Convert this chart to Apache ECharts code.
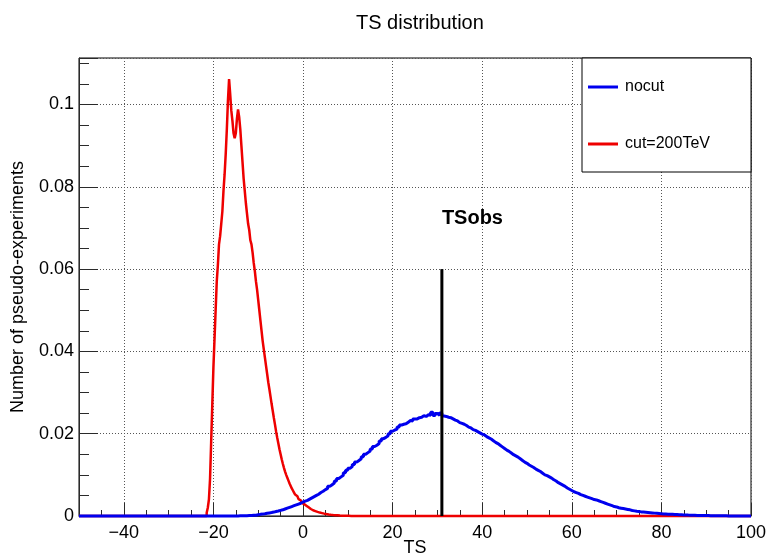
<!DOCTYPE html>
<html>
<head>
<meta charset="utf-8">
<script src="https://cdn.jsdelivr.net/npm/echarts@6/dist/echarts.min.js"></script>
<style>
  html, body { margin: 0; padding: 0; background: #fff; }
  #chart { width: 769px; height: 556px; }
</style>
</head>
<body>
<div id="chart"></div>
<script>
// Axis ranges
const xMin = -50;
const xMax = 100;
const yMax = 0.1113;
const xMajorTicks = [-40, -20, 0, 20, 40, 60, 80, 100];

// "nocut" pseudo-experiment TS distribution (bin width nocutBin, first bin low edge nocutStart)
const nocutBin = 0.5;
const nocutStart = -16;
const nocutValues = [
  0, 0.00002, 0.00003, 0.00004, 0.00005, 0.00007, 0.00008, 0.0001, 0.00012, 0.00016,
  0.0002, 0.0003, 0.0004, 0.00046, 0.00055, 0.00066, 0.00075, 0.00084, 0.00095, 0.00108,
  0.0012, 0.00136, 0.0015, 0.0017, 0.0019, 0.0021, 0.0023, 0.0025, 0.0027, 0.0029,
  0.0031, 0.0034, 0.0036, 0.0038, 0.0041, 0.0044, 0.0047, 0.0050, 0.0053, 0.0057,
  0.0060, 0.0064, 0.0067, 0.0072, 0.0076, 0.0080, 0.0085, 0.0091, 0.0095, 0.0099,
  0.0105, 0.0111, 0.0116, 0.0120, 0.0125, 0.0131, 0.0135, 0.0139, 0.0144, 0.0150,
  0.0154, 0.0158, 0.0163, 0.0169, 0.0172, 0.0176, 0.0182, 0.0188, 0.0191, 0.0195,
  0.0200, 0.0206, 0.0209, 0.0211, 0.0216, 0.0221, 0.0223, 0.0224, 0.0228, 0.0232,
  0.0231, 0.0236, 0.0236, 0.0239, 0.0240, 0.0244, 0.0242, 0.0246, 0.0245, 0.0252,
  0.0244, 0.0249, 0.0245, 0.0250, 0.0243, 0.0242, 0.0240, 0.0239, 0.0236, 0.0233,
  0.0231, 0.0227, 0.0225, 0.0223, 0.0220, 0.0216, 0.0214, 0.0210, 0.0208, 0.0205,
  0.0202, 0.0199, 0.0197, 0.0193, 0.0190, 0.0187, 0.0183, 0.0179, 0.0176, 0.0172,
  0.0168, 0.0164, 0.0160, 0.0157, 0.0153, 0.0149, 0.0146, 0.0143, 0.0139, 0.0135,
  0.0131, 0.0128, 0.0124, 0.0121, 0.0118, 0.0114, 0.0111, 0.0108, 0.0104, 0.0100,
  0.0098, 0.0095, 0.0092, 0.0088, 0.0085, 0.0081, 0.0078, 0.0075, 0.0072, 0.0068,
  0.0065, 0.0062, 0.0059, 0.0057, 0.0055, 0.0052, 0.0050, 0.0048, 0.0046, 0.0044,
  0.0042, 0.0040, 0.0039, 0.0037, 0.0035, 0.0033, 0.0031, 0.0029, 0.0027, 0.0025,
  0.0023, 0.0022, 0.0020, 0.0019, 0.0018, 0.0017, 0.0016, 0.0015, 0.00135, 0.00125,
  0.00115, 0.00108, 0.0010, 0.00095, 0.0009, 0.00085, 0.0008, 0.00075, 0.0007, 0.00065,
  0.0006, 0.00055, 0.0005, 0.00048, 0.00045, 0.00042, 0.0004, 0.00037, 0.00035, 0.00032,
  0.0003, 0.00027, 0.00025, 0.00022, 0.0002, 0.00018, 0.00017, 0.00015, 0.00014, 0.00013,
  0.00012, 0.00011, 0.0001, 0.00009, 0.00008, 0.00007, 0.00006, 0.00005, 0.00005, 0.00004,
  0.00004, 0.00003, 0.00003, 0.00002, 0.00002, 0.00001, 0.00001, 0
];

// "cut=200TeV" pseudo-experiment TS distribution (bin width cutBin, first bin low edge cutStart)
const cutBin = 0.25;
const cutStart = -22;
const cutValues = [
  0, 0, 0.0008, 0.002, 0.004, 0.009, 0.018, 0.027, 0.036, 0.043,
  0.050, 0.057, 0.061, 0.066, 0.068, 0.071, 0.074, 0.079, 0.083, 0.088,
  0.094, 0.101, 0.1062, 0.1025, 0.0985, 0.096, 0.093, 0.0918, 0.093, 0.0965,
  0.0988, 0.097, 0.094, 0.090, 0.086, 0.082, 0.079, 0.076, 0.0735, 0.071,
  0.0695, 0.067, 0.066, 0.064, 0.0615, 0.0595, 0.057, 0.055, 0.0525, 0.050,
  0.0475, 0.045, 0.0425, 0.0405, 0.0385, 0.0365, 0.0345, 0.0325, 0.0308, 0.029,
  0.0272, 0.0255, 0.0238, 0.0222, 0.0205, 0.019, 0.0176, 0.0162, 0.015, 0.0138,
  0.0127, 0.0117, 0.0108, 0.0100, 0.0093, 0.0086, 0.0079, 0.0073, 0.0067, 0.0062,
  0.0057, 0.0052, 0.0048, 0.0044, 0.0041, 0.0038, 0.0035, 0.0032, 0.0029, 0.0027,
  0.0025, 0.0023, 0.0021, 0.0019, 0.0017, 0.0016, 0.0014, 0.0013, 0.0012, 0.0011,
  0.0010, 0.0009, 0.00083, 0.00076, 0.0007, 0.00063, 0.00057, 0.00052, 0.00047, 0.00042,
  0.00038, 0.00034, 0.0003, 0.00027, 0.00024, 0.00022, 0.0002, 0.00018, 0.00016, 0.00014,
  0.00012, 0.0001, 0.00009, 0.00008, 0.00007, 0.00006, 0.00005, 0.00004, 0.00004, 0.00003,
  0.00003, 0.00002, 0.00002, 0.00001, 0.00001, 0
];

// Observed test statistic
const tsObs = 31;
const tsObsHeight = 0.06;
const tsObsLabelY = 0.0722;

const FONT = "'Liberation Sans', Arial, Helvetica, sans-serif";
const AXIS_COLOR = '#2a2a2a';

// Step-histogram points over the full axis range (zero outside the filled bins)
function histogramPoints(start, width, values) {
  const pts = [];
  const nBins = Math.round((xMax - xMin) / width);
  const offset = Math.round((start - xMin) / width);
  for (let i = 0; i < nBins; i++) {
    const k = i - offset;
    const v = (k >= 0 && k < values.length) ? values[k] : 0;
    pts.push([xMin + i * width, v]);
  }
  pts.push([xMax, pts[pts.length - 1][1]]);
  return pts;
}

function isMultiple(v, step) {
  return Math.abs(v / step - Math.round(v / step)) < 1e-6;
}

const chart = echarts.init(document.getElementById('chart'), null, { renderer: 'canvas' });

const option = {
  animation: false,
  backgroundColor: '#fff',
  textStyle: { fontFamily: FONT },
  title: {
    text: 'TS distribution',
    left: 351,
    top: 8,
    textStyle: { fontFamily: FONT, fontSize: 20, fontWeight: 'normal', color: '#000' }
  },
  grid: {
    left: 79, right: 18, top: 58, bottom: 40,
    show: true, borderColor: '#000', borderWidth: 1,
    outerBoundsMode: 'none'
  },
  legend: {
    data: ['nocut', 'cut=200TeV'],
    orient: 'vertical',
    left: 583,
    top: 72,
    itemWidth: 30,
    itemHeight: 3,
    itemGap: 37,
    icon: 'rect',
    z: 10,
    textStyle: { fontFamily: FONT, fontSize: 16, color: '#000', lineHeight: 20, padding: [0, 0, 0, 2] }
  },
  graphic: [{
    type: 'rect',
    z: 5,
    shape: { x: 582, y: 58, width: 169, height: 114 },
    style: { fill: '#fff', stroke: '#000', lineWidth: 1 }
  }],
  xAxis: [
    {
      // minor ticks every 5
      type: 'value', min: xMin, max: xMax, interval: 5, position: 'bottom',
      axisLine: { show: true, onZero: false, lineStyle: { color: AXIS_COLOR, width: 1 } },
      axisTick: { show: true, inside: true, length: 6, lineStyle: { color: AXIS_COLOR, width: 1 } },
      axisLabel: { show: false },
      splitLine: { show: false }
    },
    {
      // major ticks, labels and grid lines
      type: 'value', min: xMin, max: xMax, position: 'bottom',
      name: 'TS', nameLocation: 'middle', nameGap: 23, nameMoveOverlap: false,
      nameTextStyle: { fontFamily: FONT, fontSize: 18, color: '#000' },
      axisLine: { show: false, onZero: false },
      axisTick: { show: true, inside: true, length: 13, customValues: xMajorTicks, lineStyle: { color: AXIS_COLOR, width: 1 } },
      axisLabel: {
        show: true, customValues: xMajorTicks, margin: 8,
        fontFamily: FONT, fontSize: 18, color: '#000',
        formatter: v => String(v).replace('-', '\u2212')
      },
      splitLine: { show: true, lineStyle: { color: '#555', width: 1, type: [1, 2] } }
    }
  ],
  yAxis: [
    {
      // minor ticks every 0.005
      type: 'value', min: 0, max: yMax, interval: 0.005, position: 'left',
      axisLine: { show: true, onZero: false, lineStyle: { color: AXIS_COLOR, width: 1 } },
      axisTick: { show: true, inside: true, length: 10, lineStyle: { color: AXIS_COLOR, width: 1 } },
      axisLabel: { show: false },
      splitLine: { show: false }
    },
    {
      // major ticks, labels and grid lines
      type: 'value', min: 0, max: yMax, interval: 0.02, position: 'left', offset: 0,
      name: 'Number of pseudo-experiments', nameLocation: 'middle', nameGap: 52, nameRotate: 90,
      nameMoveOverlap: false,
      nameTextStyle: { fontFamily: FONT, fontSize: 18, color: '#000' },
      axisLine: { show: false, onZero: false },
      axisTick: { show: true, inside: true, length: 19, lineStyle: { color: AXIS_COLOR, width: 1 } },
      axisLabel: {
        show: true, margin: 5, fontFamily: FONT, fontSize: 18, color: '#000',
        formatter: v => isMultiple(v, 0.02) ? String(Math.round(v * 100) / 100) : ''
      },
      splitLine: { show: true, lineStyle: { color: '#555', width: 1, type: [1, 2] } }
    }
  ],
  series: [
    {
      name: 'cut=200TeV', type: 'line', step: 'end',
      xAxisIndex: 0, yAxisIndex: 0,
      data: histogramPoints(cutStart, cutBin, cutValues),
      showSymbol: false, symbol: 'none', clip: false,
      itemStyle: { color: '#ee0000' },
      lineStyle: { color: '#ee0000', width: 2.5 },
      z: 3
    },
    {
      name: 'nocut', type: 'line', step: 'end',
      xAxisIndex: 0, yAxisIndex: 0,
      data: histogramPoints(nocutStart, nocutBin, nocutValues),
      showSymbol: false, symbol: 'none', clip: false,
      itemStyle: { color: '#0000ee' },
      lineStyle: { color: '#0000ee', width: 3 },
      z: 4
    },
    {
      name: 'TSobs', type: 'line',
      xAxisIndex: 0, yAxisIndex: 0,
      data: [[tsObs, 0], [tsObs, tsObsHeight]],
      showSymbol: false, symbol: 'none', clip: false,
      lineStyle: { color: '#000', width: 3 },
      z: 5
    },
    {
      name: 'TSobs label', type: 'scatter',
      xAxisIndex: 0, yAxisIndex: 0,
      data: [[tsObs, tsObsLabelY]],
      symbolSize: 0,
      itemStyle: { opacity: 1 },
      label: {
        show: true, position: 'right', distance: 0,
        formatter: 'TSobs', opacity: 1,
        fontFamily: FONT, fontSize: 20, fontWeight: 'bold', color: '#000'
      },
      z: 6
    }
  ]
};

chart.setOption(option);
</script>
</body>
</html>
